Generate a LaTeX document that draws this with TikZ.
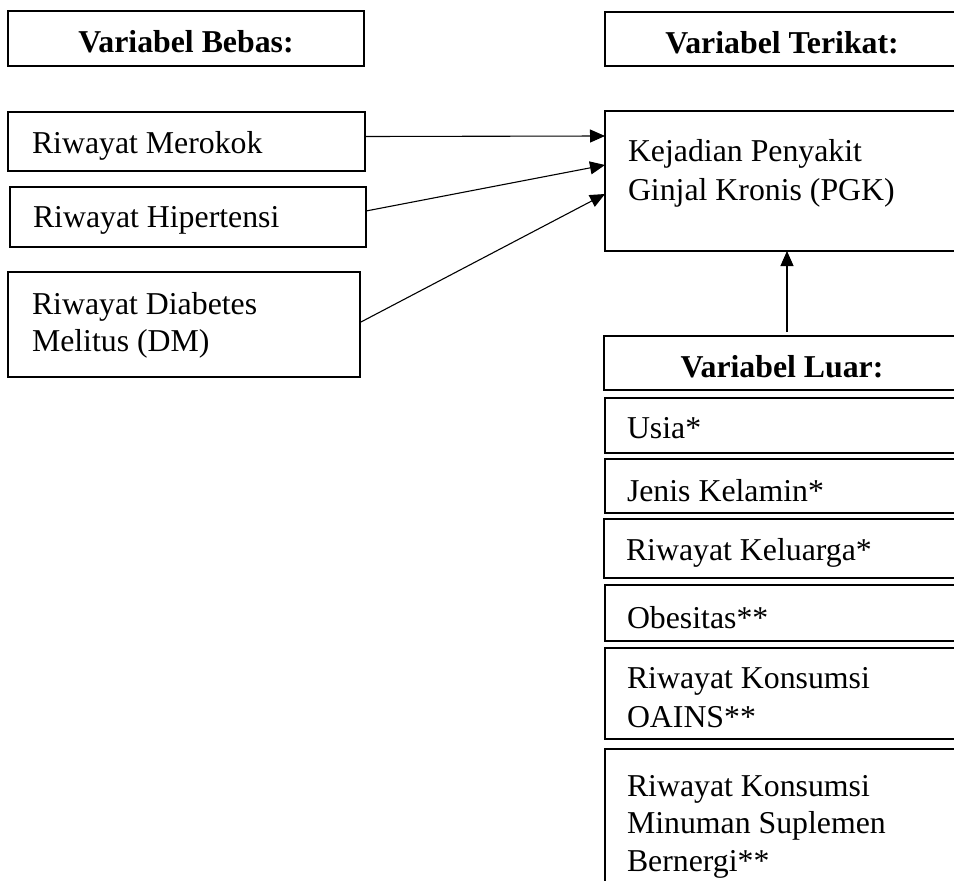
\documentclass[tikz,border=0pt]{standalone}
\usepackage{fontspec}
\setmainfont{Liberation Serif}
\usetikzlibrary{arrows.meta}
\tikzset{
  box/.style={draw=black, line width=2.3pt, rectangle, inner sep=0pt, outer sep=0pt, anchor=north west},
  txt/.style={inner sep=0pt, outer sep=0pt, anchor=base west, font=\fontsize{31.8pt}{38pt}\selectfont},
  head/.style={inner sep=0pt, outer sep=0pt, anchor=base, font=\fontsize{31.8pt}{38pt}\selectfont\bfseries},
  conn/.style={line width=1.1pt, -{Triangle[length=15pt,width=13pt]}}
}
\begin{document}
\begin{tikzpicture}[x=1pt,y=-1pt]
\useasboundingbox (0,0) rectangle (954,881);
\clip (0,0) rectangle (954,881);
\fill[white] (0,0) rectangle (954,881);
% left column
\node[box, minimum width=356pt, minimum height=55pt] (beb) at (8,11) {};
\node[head] (bebt) at (186,52) {Variabel Bebas:};
\node[box, minimum width=357pt, minimum height=59pt] (mer) at (8,112) {};
\node[txt] (mert) at (32,153) {Riwayat Merokok};
\node[box, minimum width=356pt, minimum height=60pt] (hip) at (10,187) {};
\node[txt] (hipt) at (33,227) {Riwayat Hipertensi};
\node[box, minimum width=352pt, minimum height=105pt] (dm) at (8,272) {};
\node[txt] (dmt) at (32,314) {\vtop{\baselineskip=37pt\hbox{Riwayat Diabetes}\hbox{Melitus (DM)}}};
% right column
\node[box, minimum width=355pt, minimum height=54pt] (ter) at (605,12) {};
\node[head] (tert) at (782,53) {Variabel Terikat:};
\node[box, minimum width=355pt, minimum height=140pt] (kej) at (605,111) {};
\node[txt] (kejt) at (628,161) {\vtop{\baselineskip=39pt\hbox{Kejadian Penyakit}\hbox{Ginjal Kronis (PGK)}}};
\node[box, minimum width=356pt, minimum height=54pt] (luar) at (604,336) {};
\node[head] (luart) at (782,377) {Variabel Luar:};
\node[box, minimum width=355pt, minimum height=55pt] (usia) at (605,398) {};
\node[txt] (usiat) at (627,438) {Usia*};
\node[box, minimum width=355pt, minimum height=54pt] (jk) at (605,459) {};
\node[txt] (jkt) at (627,501) {Jenis Kelamin*};
\node[box, minimum width=356pt, minimum height=59pt] (kel) at (604,519) {};
\node[txt] (kelt) at (626,560) {Riwayat Keluarga*};
\node[box, minimum width=355pt, minimum height=56pt] (obe) at (605,585) {};
\node[txt] (obet) at (627,628) {Obesitas**};
\node[box, minimum width=355pt, minimum height=91pt] (oai) at (605,648) {};
\node[txt] (oait) at (627,688) {\vtop{\baselineskip=39pt\hbox{Riwayat Konsumsi}\hbox{OAINS**}}};
\node[box, minimum width=355pt, minimum height=151pt] (ber) at (605,749) {};
\node[txt] (bert) at (627,796) {\vtop{\baselineskip=37.5pt\hbox{Riwayat Konsumsi}\hbox{Minuman Suplemen}\hbox{Bernergi**}}};
% connectors
\draw[conn] ([yshift=5pt]mer.east) -- ([yshift=-25pt]kej.north west);
\draw[conn] ([yshift=6pt]hip.east) -- ([yshift=-54pt]kej.north west);
\draw[conn] ([yshift=2pt]dm.east) -- ([yshift=-83pt]kej.north west);
\coordinate (vt) at ([xshift=5pt,yshift=4pt]luar.north);
\draw[conn] (vt) -- (vt |- kej.south);
\end{tikzpicture}
\end{document}
